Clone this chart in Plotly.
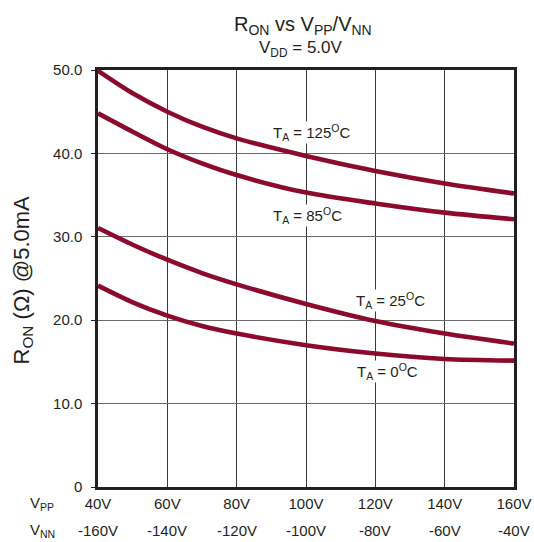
import plotly.graph_objects as go

vpp = [40, 60, 80, 100, 120, 140, 160]
vpp_labels = ["40V", "60V", "80V", "100V", "120V", "140V", "160V"]
vnn_labels = ["-160V", "-140V", "-120V", "-100V", "-80V", "-60V", "-40V"]

vpp_pts = [40, 50, 60, 70, 80, 100, 120, 140, 160]
r_125 = [49.9, 47.2, 45.0, 43.2, 41.8, 39.7, 37.9, 36.4, 35.2]
r_85 = [44.8, 42.6, 40.5, 38.8, 37.4, 35.3, 34.0, 32.9, 32.1]
r_25 = [31.05, 29.05, 27.25, 25.65, 24.3, 21.95, 19.9, 18.4, 17.2]
r_0 = [24.15, 22.15, 20.55, 19.3, 18.4, 17.0, 16.0, 15.35, 15.15]

y_ticks = [0, 10, 20, 30, 40, 50]
y_tick_labels = ["0", "10.0", "20.0", "30.0", "40.0", "50.0"]

curve_labels = ["T<sub>A</sub> = 125<sup>O</sup>C", "T<sub>A</sub> = 85<sup>O</sup>C",
                "T<sub>A</sub> = 25<sup>O</sup>C", "T<sub>A</sub> = 0<sup>O</sup>C"]
label_x = [101.5, 100.5, 124.5, 123.5]
label_y = [42.5, 32.6, 22.4, 13.8]

LINE = "#8c0a2d"
TXT = "#231f20"
FONT = "Liberation Sans, Arial, sans-serif"

fig = go.Figure()
for ys in [r_125, r_85, r_25, r_0]:
    fig.add_trace(go.Scatter(x=vpp_pts, y=ys, mode="lines",
                             line=dict(color=LINE, width=4.6, shape="spline", smoothing=0.8),
                             showlegend=False, hoverinfo="skip"))

annotations = []
for t, x, y in zip(curve_labels, label_x, label_y):
    annotations.append(dict(x=x, y=y, xref="x", yref="y", text=t, showarrow=False,
                            font=dict(size=15, color=TXT, family=FONT),
                            bgcolor="white", borderpad=0))
for v, t in zip(vpp, vnn_labels):
    annotations.append(dict(x=v, y=0, xref="x", yref="paper", text=t, showarrow=False,
                            xanchor="center", yanchor="middle", yshift=-43,
                            font=dict(size=15, color=TXT, family=FONT)))
annotations.append(dict(x=0, y=0, xref="paper", yref="paper", text="V<sub>PP</sub>",
                        showarrow=False, xanchor="center", xshift=-56, yshift=-16,
                        yanchor="middle", font=dict(size=15, color=TXT, family=FONT)))
annotations.append(dict(x=0, y=0, xref="paper", yref="paper", text="V<sub>NN</sub>",
                        showarrow=False, xanchor="center", xshift=-56, yshift=-43,
                        yanchor="middle", font=dict(size=15, color=TXT, family=FONT)))
annotations.append(dict(x=0, y=0.5, xref="paper", yref="paper",
                        text="R<sub>ON</sub> (\u03a9) @5.0mA", textangle=-90,
                        showarrow=False, xanchor="center", yanchor="middle",
                        xshift=-76, yshift=-2,
                        font=dict(size=22, color=TXT, family=FONT)))
annotations.append(dict(x=0.5, y=1, xref="paper", yref="paper",
                        text="R<sub>ON</sub> vs V<sub>PP</sub>/V<sub>NN</sub>",
                        showarrow=False, yanchor="middle", yshift=45, xshift=-3,
                        font=dict(size=20, color=TXT, family=FONT)))
annotations.append(dict(x=0.5, y=1, xref="paper", yref="paper",
                        text="V<sub>DD</sub> = 5.0V",
                        showarrow=False, yanchor="middle", yshift=21, xshift=-5,
                        font=dict(size=17, color=TXT, family=FONT)))

fig.update_layout(
    width=534, height=542,
    margin=dict(l=98, r=20, t=70, b=55),
    paper_bgcolor="white", plot_bgcolor="white",
    font=dict(family=FONT, color=TXT),
    annotations=annotations,
)
fig.update_xaxes(range=[40, 160], tickvals=vpp, ticktext=vpp_labels,
                 showgrid=True, gridcolor="#3a3a3a", gridwidth=1,
                 showline=True, linecolor=TXT, linewidth=2.5, mirror=True,
                 ticks="", ticklabelstandoff=1, zeroline=False,
                 automargin=False, ticklabeloverflow="allow",
                 tickfont=dict(size=15, color=TXT, family=FONT))
fig.update_yaxes(range=[0, 50], tickvals=y_ticks, ticktext=y_tick_labels,
                 showgrid=True, gridcolor="#6a6a6a", gridwidth=1,
                 showline=True, linecolor=TXT, linewidth=2.5, mirror=True,
                 ticks="outside", ticklen=4, tickcolor=TXT, zeroline=False,
                 ticklabelstandoff=6, automargin=False, ticklabeloverflow="allow",
                 tickfont=dict(size=15, color=TXT, family=FONT))

fig.write_html(
    "out.html",
    config={"displayModeBar": False},
    post_script=("document.body.style.margin='0';"
                 "document.body.style.overflow='hidden';"
                 "document.documentElement.style.overflow='hidden';"),
)
